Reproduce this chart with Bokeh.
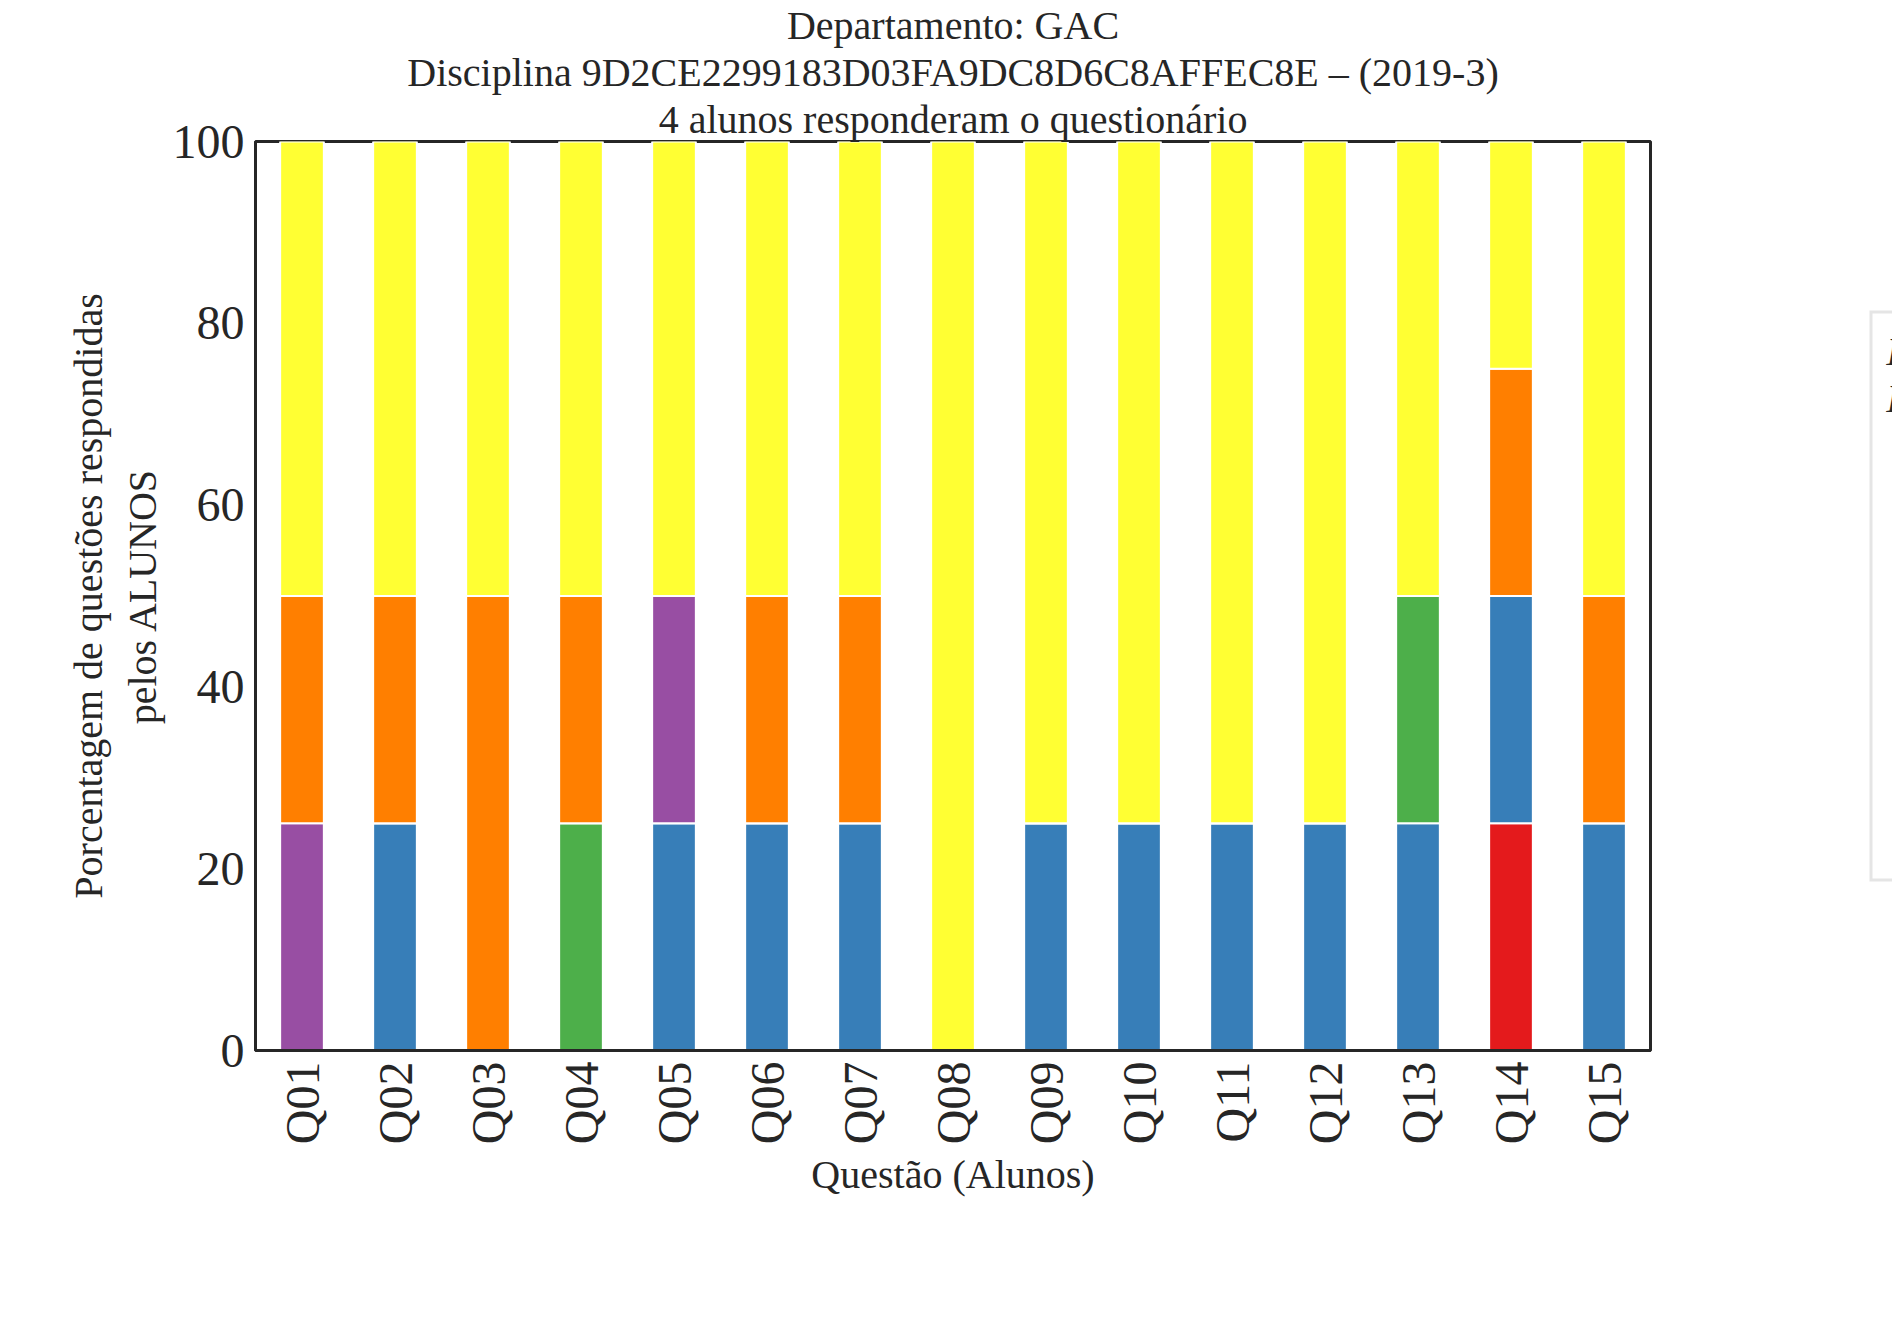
from bokeh.plotting import figure
from bokeh.models import Legend, Title, FactorRange
from bokeh.embed import file_html
from bokeh.resources import INLINE

questions = ["Q%02d" % i for i in range(1, 16)]
levels = ["0", "1", "2", "3", "4", "5"]
colors = ["#e41a1c", "#377eb8", "#4daf4a", "#984ea3", "#ff7f00", "#ffff33"]
p0 = [0,0,0,0,0,0,0,0,0,0,0,0,0,25,0]
p1 = [0,25,0,0,25,25,25,0,25,25,25,25,25,25,25]
p2 = [0,0,0,25,0,0,0,0,0,0,0,0,25,0,0]
p3 = [25,0,0,0,25,0,0,0,0,0,0,0,0,0,0]
p4 = [25,25,50,25,0,25,25,0,0,0,0,0,0,25,25]
p5 = [50,50,50,50,50,50,50,100,75,75,75,75,50,25,50]

FONT = "Liberation Serif"
data = {"q": questions, "0": p0, "1": p1, "2": p2, "3": p3, "4": p4, "5": p5}

p = figure(x_range=FactorRange(*questions, range_padding=0), y_range=(0, 100),
           frame_width=1395, frame_height=909, min_border_left=255, min_border_top=50,
           min_border_bottom=10, min_border_right=0, output_backend="svg", toolbar_location=None)
rs = p.vbar_stack(levels, x="q", width=0.47, color=colors, line_color="white",
                  line_width=2, source=data)
for t in ["4 alunos responderam o questionário",
          "Disciplina 9D2CE2299183D03FA9DC8D6C8AFFEC8E – (2019-3)",
          "Departamento: GAC"]:
    p.add_layout(Title(text=t, align="center", text_font=FONT, text_font_size="40px",
                       text_font_style="normal", text_color="#262626", standoff=0), "above")

legend = Legend(items=[(l, [r]) for l, r in zip(levels, rs)], title="Escala\nLikert",
                title_text_font=FONT, title_text_font_size="40px", title_text_color="#262626",
                label_text_font=FONT, label_text_font_size="34px", label_text_color="#262626",
                glyph_width=85, glyph_height=26, label_standoff=22, spacing=38,
                border_line_color="#cccccc", border_line_width=3,
                padding=14, margin=12, location="center", title_standoff=25)
p.add_layout(legend, "right")

p.xgrid.visible = False
p.ygrid.visible = False
p.outline_line_color = "#262626"
p.outline_line_width = 3
for ax in [p.xaxis, p.yaxis]:
    ax.axis_line_color = "#262626"
    ax.axis_line_width = 3
    ax.major_tick_line_color = None
    ax.minor_tick_line_color = None
    ax.major_label_text_font = FONT
    ax.major_label_text_font_size = "48px"
    ax.major_label_text_color = "#262626"
    ax.axis_label_text_font = FONT
    ax.axis_label_text_font_size = "40px"
    ax.axis_label_text_font_style = "normal"
    ax.axis_label_text_color = "#262626"
p.yaxis.ticker = [0, 20, 40, 60, 80, 100]
p.xaxis.major_label_orientation = 1.5708
p.xaxis.axis_label = "Questão (Alunos)"
p.yaxis.axis_label = "Porcentagem de questões respondidas\npelos ALUNOS"
p.xaxis.group_text_font_size = "0px"

open("out.html", "w").write(file_html(p, INLINE))
